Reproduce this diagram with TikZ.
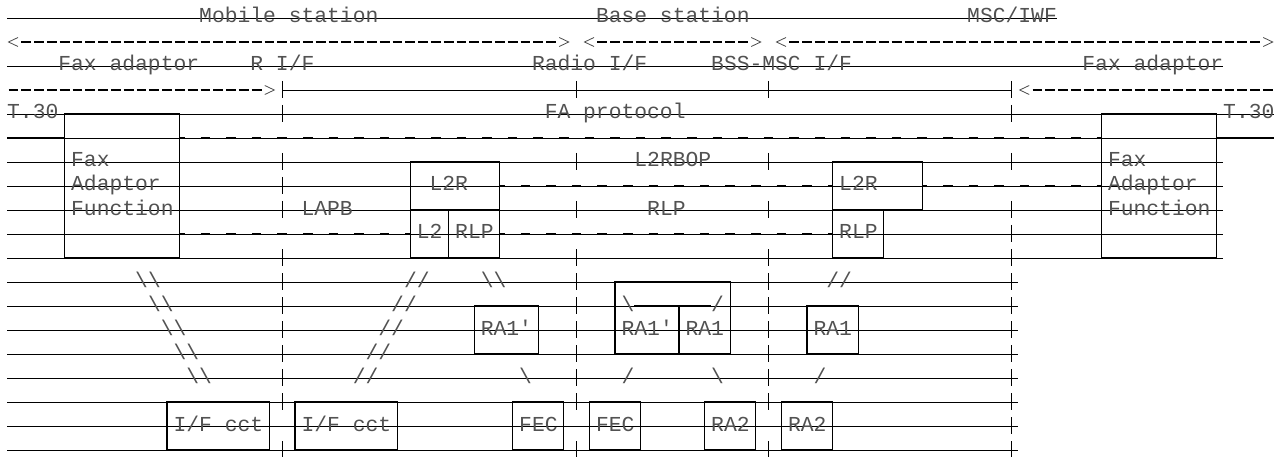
\documentclass[tikz,border=0pt]{standalone}
\usepackage{fontspec}
\newfontfamily\asciifont{Liberation Mono}
\usetikzlibrary{calc}
\newcommand\colx[1]{(7+(#1)*12.8)}
\newcommand\rowy[1]{(-18-24*(#1))}
\tikzset{
  rowline/.style={line width=0.9pt, black},
  boxsty/.style={draw=black, line width=1.3pt, rectangle, inner sep=0pt, outer sep=0pt},
  boxline/.style={line width=1.3pt, black},
  txt/.style={font=\asciifont\fontsize{21.33}{24}\selectfont, text=black!68, inner sep=0pt, anchor=base west},
  hyph/.style={line width=1.1pt, black, dash pattern=on 9.8pt off 3pt},
  bigdash/.style={line width=2pt, black, dash pattern=on 9.6pt off 16pt, dash phase=4.8pt},
  endline/.style={line width=1.6pt, black},
  chev/.style={line width=0.8pt, black!70},
  ifseg/.style={line width=1.1pt, black},
}
\newcommand\mkbox[5]{%
  \pgfmathsetmacro\bw{(#3-#2)*12.8}%
  \pgfmathsetmacro\bh{(#5-#4)*24}%
  \node[boxsty, minimum width=\bw pt, minimum height=\bh pt, anchor=north west] (#1) at ({\colx{#2+0.5}},{\rowy{#4}}) {};}
\newcommand\txtat[4]{\node[txt] (#1) at ({\colx{#2}},{\rowy{#3}-5}) {#4};}
\begin{document}
\begin{tikzpicture}[x=1pt,y=1pt]
\useasboundingbox (0,0) rectangle (1282,-457);
\foreach \r in {0,...,18} \coordinate (r\r) at (0,{\rowy{\r}});

% row lines
\draw[rowline] ({\colx{0}},{\rowy{0}}) -- ({\colx{82}},{\rowy{0}});
\draw[rowline] ({\colx{0}},{\rowy{2}}) -- ({\colx{95}},{\rowy{2}});
\draw[rowline] ({\colx{21.5}},{\rowy{3}}) -- ({\colx{78.5}},{\rowy{3}});
\foreach \r in {4,5} \draw[rowline] ({\colx{0}},{\rowy{\r}}) -- ({\colx{99}},{\rowy{\r}});
\foreach \r in {6,...,10} \draw[rowline] ({\colx{0}},{\rowy{\r}}) -- ({\colx{95}},{\rowy{\r}});
\foreach \r in {11,...,18} \draw[rowline] ({\colx{0}},{\rowy{\r}}) -- ({\colx{79}},{\rowy{\r}});

% interface verticals
\foreach \r in {3,4,6,7,8,10,11,12,13,14,15,16,18}
  \draw[ifseg] ({\colx{21.5}},{\rowy{\r}+9}) -- ({\colx{21.5}},{\rowy{\r}-8});
\foreach \r in {3,6,8,10,11,12,13,14,15,16,18}
  \draw[ifseg] ({\colx{44.5}},{\rowy{\r}+9}) -- ({\colx{44.5}},{\rowy{\r}-8});
\foreach \r in {3,6,8,10,11,12,13,14,15,16,18}
  \draw[ifseg] ({\colx{59.5}},{\rowy{\r}+9}) -- ({\colx{59.5}},{\rowy{\r}-8});
\foreach \r in {3,4,6,8,9,10,11,12,13,14,15,16,17,18}
  \draw[ifseg] ({\colx{78.5}},{\rowy{\r}+9}) -- ({\colx{78.5}},{\rowy{\r}-8});

% boxes
\mkbox{faxL}{4}{13}{4}{10}
\mkbox{faxR}{85}{94}{4}{10}
\mkbox{ltrL}{31}{38}{6}{8}
\mkbox{ltwoL}{31}{34}{8}{10}
\mkbox{rlpL}{34}{38}{8}{10}
\mkbox{ltrR}{64}{71}{6}{8}
\mkbox{rlpR}{64}{68}{8}{10}
\mkbox{raoneL}{36}{41}{12}{14}
\mkbox{raBS}{47}{56}{11}{14}
\mkbox{raoneR}{62}{66}{12}{14}
\mkbox{ifL}{12}{20}{16}{18}
\mkbox{ifR}{22}{30}{16}{18}
\mkbox{fecL}{39}{43}{16}{18}
\mkbox{fecR}{45}{49}{16}{18}
\mkbox{ratwoL}{54}{58}{16}{18}
\mkbox{ratwoR}{60}{64}{16}{18}
\draw[boxline] ({\colx{52.5}},{\rowy{12}}) -- ({\colx{52.5}},{\rowy{14}});
\draw[line width=1.6pt] ({\colx{49}},{\rowy{12}}) -- ({\colx{55}},{\rowy{12}});

% dashed protocol connectors
\draw[bigdash] (faxL.east |- r5) -- (faxR.west |- r5);
\draw[bigdash] (ltrL.east |- r7) -- (ltrR.west |- r7);
\draw[bigdash] (ltrR.east |- r7) -- (faxR.west |- r7);
\draw[bigdash] (faxL.east |- r9) -- (ltwoL.west |- r9);
\draw[bigdash] (rlpL.east |- r9) -- (rlpR.west |- r9);
\coordinate (tL) at ({\colx{0}},{\rowy{5}});
\coordinate (tR) at ({\colx{99}},{\rowy{5}});
\draw[endline] (tL) -- (faxL.west |- r5);
\draw[endline] (faxR.east |- r5) -- (tR);

% span arrows, row 1
\coordinate (msA) at ({\colx{0}},{\rowy{1}});
\coordinate (msB) at ({\colx{44}},{\rowy{1}});
\coordinate (bsA) at ({\colx{45}},{\rowy{1}});
\coordinate (bsB) at ({\colx{59}},{\rowy{1}});
\coordinate (mscA) at ({\colx{60}},{\rowy{1}});
\coordinate (mscB) at ({\colx{99}},{\rowy{1}});
\foreach \a/\b in {msA/msB, bsA/bsB, mscA/mscB}{
  \draw[hyph, shorten <=14.3pt, shorten >=12.8pt] (\a) -- (\b);
  \draw[chev] ([shift={(11,4.5)}]\a) -- ([shift={(1.5,0)}]\a) -- ([shift={(11,-4.5)}]\a);
  \draw[chev] ([shift={(-11,4.5)}]\b) -- ([shift={(-1.5,0)}]\b) -- ([shift={(-11,-4.5)}]\b);
}
% row 3 arrows
\coordinate (faA) at ({\colx{0}},{\rowy{3}});
\coordinate (faB) at ({\colx{21}},{\rowy{3}});
\draw[hyph, shorten <=1.5pt, shorten >=12.8pt] (faA) -- (faB);
\draw[chev] ([shift={(-11,4.5)}]faB) -- ([shift={(-1.5,0)}]faB) -- ([shift={(-11,-4.5)}]faB);
\coordinate (fbA) at ({\colx{79}},{\rowy{3}});
\coordinate (fbB) at ({\colx{99}},{\rowy{3}});
\draw[hyph, shorten <=14.3pt] (fbA) -- (fbB);
\draw[chev] ([shift={(11,4.5)}]fbA) -- ([shift={(1.5,0)}]fbA) -- ([shift={(11,-4.5)}]fbA);

% texts
\txtat{tMS}{15}{0}{Mobile station}
\txtat{tBS}{46}{0}{Base station}
\txtat{tMSC}{75}{0}{MSC/IWF}
\txtat{tFAa}{4}{2}{Fax adaptor}
\txtat{tRIF}{19}{2}{R I/F}
\txtat{tRadio}{41}{2}{Radio I/F}
\txtat{tBSSMSC}{55}{2}{BSS-MSC I/F}
\txtat{tFAb}{84}{2}{Fax adaptor}
\txtat{tTa}{0}{4}{T.30}
\txtat{tFAP}{42}{4}{FA protocol}
\txtat{tTb}{95}{4}{T.30}
\txtat{tFaxa}{5}{6}{Fax}
\txtat{tAdaa}{5}{7}{Adaptor}
\txtat{tFuna}{5}{8}{Function}
\txtat{tFaxb}{86}{6}{Fax}
\txtat{tAdab}{86}{7}{Adaptor}
\txtat{tFunb}{86}{8}{Function}
\txtat{tLtrbop}{49}{6}{L2RBOP}
\txtat{tLtra}{33}{7}{L2R}
\txtat{tLtrb}{65}{7}{L2R}
\txtat{tLAPB}{23}{8}{LAPB}
\txtat{tRLPm}{50}{8}{RLP}
\txtat{tLtwo}{32}{9}{L2}
\txtat{tRLPa}{35}{9}{RLP}
\txtat{tRLPb}{65}{9}{RLP}
\txtat{tRAa}{37}{13}{RA1'}
\txtat{tRAb}{48}{13}{RA1'}
\txtat{tRAc}{53}{13}{RA1}
\txtat{tRAd}{63}{13}{RA1}
\txtat{tIFa}{13}{17}{I/F cct}
\txtat{tIFb}{23}{17}{I/F cct}
\txtat{tFECa}{40}{17}{FEC}
\txtat{tFECb}{46}{17}{FEC}
\txtat{tRAe}{55}{17}{RA2}
\txtat{tRAf}{61}{17}{RA2}

% slashes
\txtat{sA}{10}{11}{\textbackslash\textbackslash}
\txtat{sB}{31}{11}{//}
\txtat{sC}{37}{11}{\textbackslash\textbackslash}
\txtat{sD}{64}{11}{//}
\txtat{sE}{11}{12}{\textbackslash\textbackslash}
\txtat{sF}{30}{12}{//}
\txtat{sG}{48}{12}{\textbackslash}
\txtat{sH}{55}{12}{/}
\txtat{sI}{12}{13}{\textbackslash\textbackslash}
\txtat{sJ}{29}{13}{//}
\txtat{sK}{13}{14}{\textbackslash\textbackslash}
\txtat{sL}{28}{14}{//}
\txtat{sM}{14}{15}{\textbackslash\textbackslash}
\txtat{sN}{27}{15}{//}
\txtat{sO}{40}{15}{\textbackslash}
\txtat{sP}{48}{15}{/}
\txtat{sQ}{55}{15}{\textbackslash}
\txtat{sR}{63}{15}{/}
\end{tikzpicture}
\end{document}
